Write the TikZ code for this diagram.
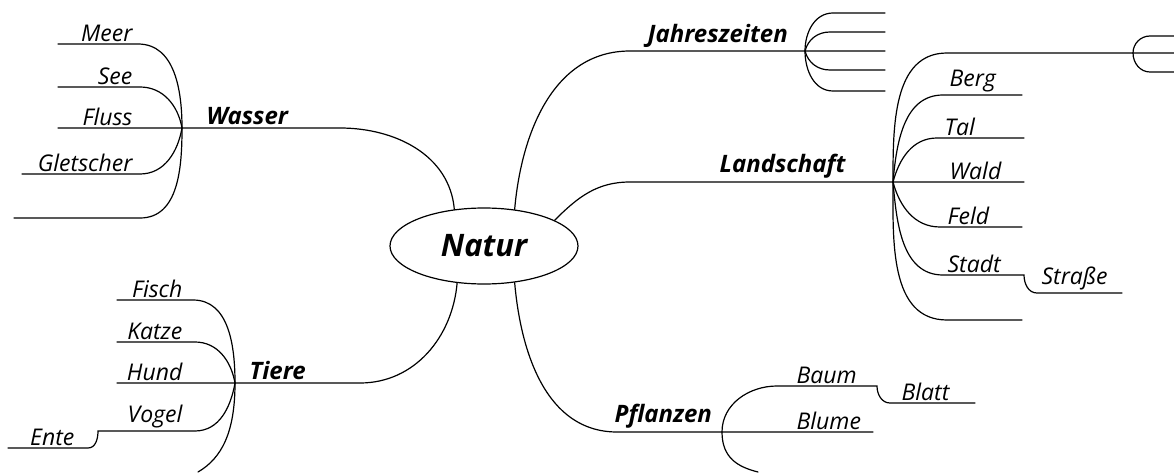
\documentclass[tikz,border=0pt]{standalone}
\usepackage{fontspec}
\setmainfont{Open Sans}
\usetikzlibrary{positioning,shapes.geometric}
\tikzset{
map/.style={
    x=1pt,
    y=1pt,
    line width=1.2pt,
    line cap=round
},
topic/.style={
    ellipse,
    draw,
    line width=1.2pt,
    minimum width=188pt,
    minimum height=76pt,
    font=\bfseries\itshape\fontsize{31}{31}\selectfont
},
branch/.style={
    font=\bfseries\itshape\fontsize{24}{24}\selectfont,
    inner sep=1pt
},
leaf/.style={
    font=\itshape\fontsize{23}{23}\selectfont,
    inner sep=1pt
}}

\begin{document}
\begin{tikzpicture}[map]
\useasboundingbox (0,0) rectangle (1174,472);

\node[topic]    (natur)    at (484,226)    {Natur};

% junctions
\coordinate    (wj)    at (182,344);
\coordinate    (tj)    at (235,89);
\coordinate    (jj)    at (805,421);
\coordinate    (lj)    at (893,290);
\coordinate    (rj)    at (1133,419);
\coordinate    (pj)    at (722,40);
\coordinate    (sj)    at (1022,197);
\coordinate    (vj)    at (100,41);
\coordinate    (bj)    at (875,86);

% Wasser
\node[branch, anchor=south west]    (wasser)    at (205,346)    {Wasser};
\node[leaf, anchor=south east]    (meer)    at (134,429)    {Meer};
\node[leaf, anchor=south east]    (see)    at (134,386)    {See};
\node[leaf, anchor=south east]    (fluss)    at (134,345)    {Fluss};
\node[leaf, anchor=south east]    (gletscher)    at (134,299)    {Gletscher};
\draw    (natur.129) to[out=95, in=0] (340,344) -- (wj) -- (58,344);
\draw    (wj) to[out=90, in=0] (138,428) -- (58,428);
\draw    (wj) to[out=100, in=0] (140,385) -- (58,385);
\draw    (wj) to[out=-100, in=0] (140,298) -- (22,298);
\draw    (wj) to[out=-90, in=0] (140,254) -- (14,254);

% Tiere
\node[branch, anchor=south west]    (tiere)    at (248,91)    {Tiere};
\node[leaf, anchor=south east]    (fisch)    at (184,173)    {Fisch};
\node[leaf, anchor=south east]    (katze)    at (184,131)    {Katze};
\node[leaf, anchor=south east]    (hund)    at (184,90)    {Hund};
\node[leaf, anchor=south east]    (vogel)    at (184,42)    {Vogel};
\node[leaf, anchor=south east]    (ente)    at (76,25)    {Ente};
\draw    (natur.234) to[out=-95, in=0] (360,89) -- (tj) -- (117,89);
\draw    (tj) to[out=90, in=0] (193,172) -- (117,172);
\draw    (tj) to[out=100, in=0] (195,130) -- (117,130);
\draw    (tj) to[out=-100, in=0] (195,41) -- (vj) -- (98,41) to[out=-90, in=0] (88,24) -- (8,24);
\draw    (tj) .. controls (235,40) and (222,14) .. (198,0);

% Jahreszeiten
\node[branch, anchor=south west]    (jahr)    at (646,423)    {Jahreszeiten};
\draw    (natur.50) to[out=85, in=180] (630,421) -- (jj) -- (885,421);
\draw    (jj) to[out=90, in=180] (833,459) -- (885,459);
\draw    (jj) to[out=75, in=180] (830,440) -- (885,440);
\draw    (jj) to[out=-75, in=180] (830,402) -- (885,402);
\draw    (jj) to[out=-90, in=180] (833,381) -- (885,381);

% Landschaft
\node[branch, anchor=south west]    (land)    at (718,292)    {Landschaft};
\node[leaf, anchor=south west]    (berg)    at (948,378)    {Berg};
\node[leaf, anchor=south west]    (tal)    at (943,335)    {Tal};
\node[leaf, anchor=south west]    (wald)    at (948,291)    {Wald};
\node[leaf, anchor=south west]    (feld)    at (946,246)    {Feld};
\node[leaf, anchor=south west]    (stadt)    at (946,198)    {Stadt};
\node[leaf, anchor=south west]    (strasse)    at (1040,180)    {Straße};
\draw    (natur.20) to[out=45, in=180] (630,290) -- (lj) -- (1024,290);
\draw    (lj) to[out=90, in=180] (947,419) -- (rj) -- (1174,419);
\draw    (rj) to[out=90, in=180] (1150,436) -- (1174,436);
\draw    (rj) to[out=-90, in=180] (1150,400) -- (1174,400);
\draw    (lj) to[out=85, in=180] (943,377) -- (1022,377);
\draw    (lj) to[out=75, in=180] (937,334) -- (1024,334);
\draw    (lj) to[out=-75, in=180] (940,245) -- (1022,245);
\draw    (lj) to[out=-85, in=180] (943,197) -- (sj) -- (1024,197) to[out=-90, in=180] (1037,179) -- (1122,179);
\draw    (lj) to[out=-90, in=180] (947,152) -- (1022,152);

% Pflanzen
\node[branch, anchor=south west]    (pflanzen)    at (613,42)    {Pflanzen};
\node[leaf, anchor=south west]    (baum)    at (795,87)    {Baum};
\node[leaf, anchor=south west]    (blume)    at (795,41)    {Blume};
\node[leaf, anchor=south west]    (blatt)    at (900,70)    {Blatt};
\draw    (natur.310) to[out=-85, in=180] (617,40) -- (pj) -- (873,40);
\draw    (pj) to[out=90, in=180] (777,86) -- (bj) -- (877,86) to[out=-90, in=180] (890,69) -- (975,69);
\draw    (pj) .. controls (722,14) and (738,5) .. (758,0);
\end{tikzpicture}
\end{document}
